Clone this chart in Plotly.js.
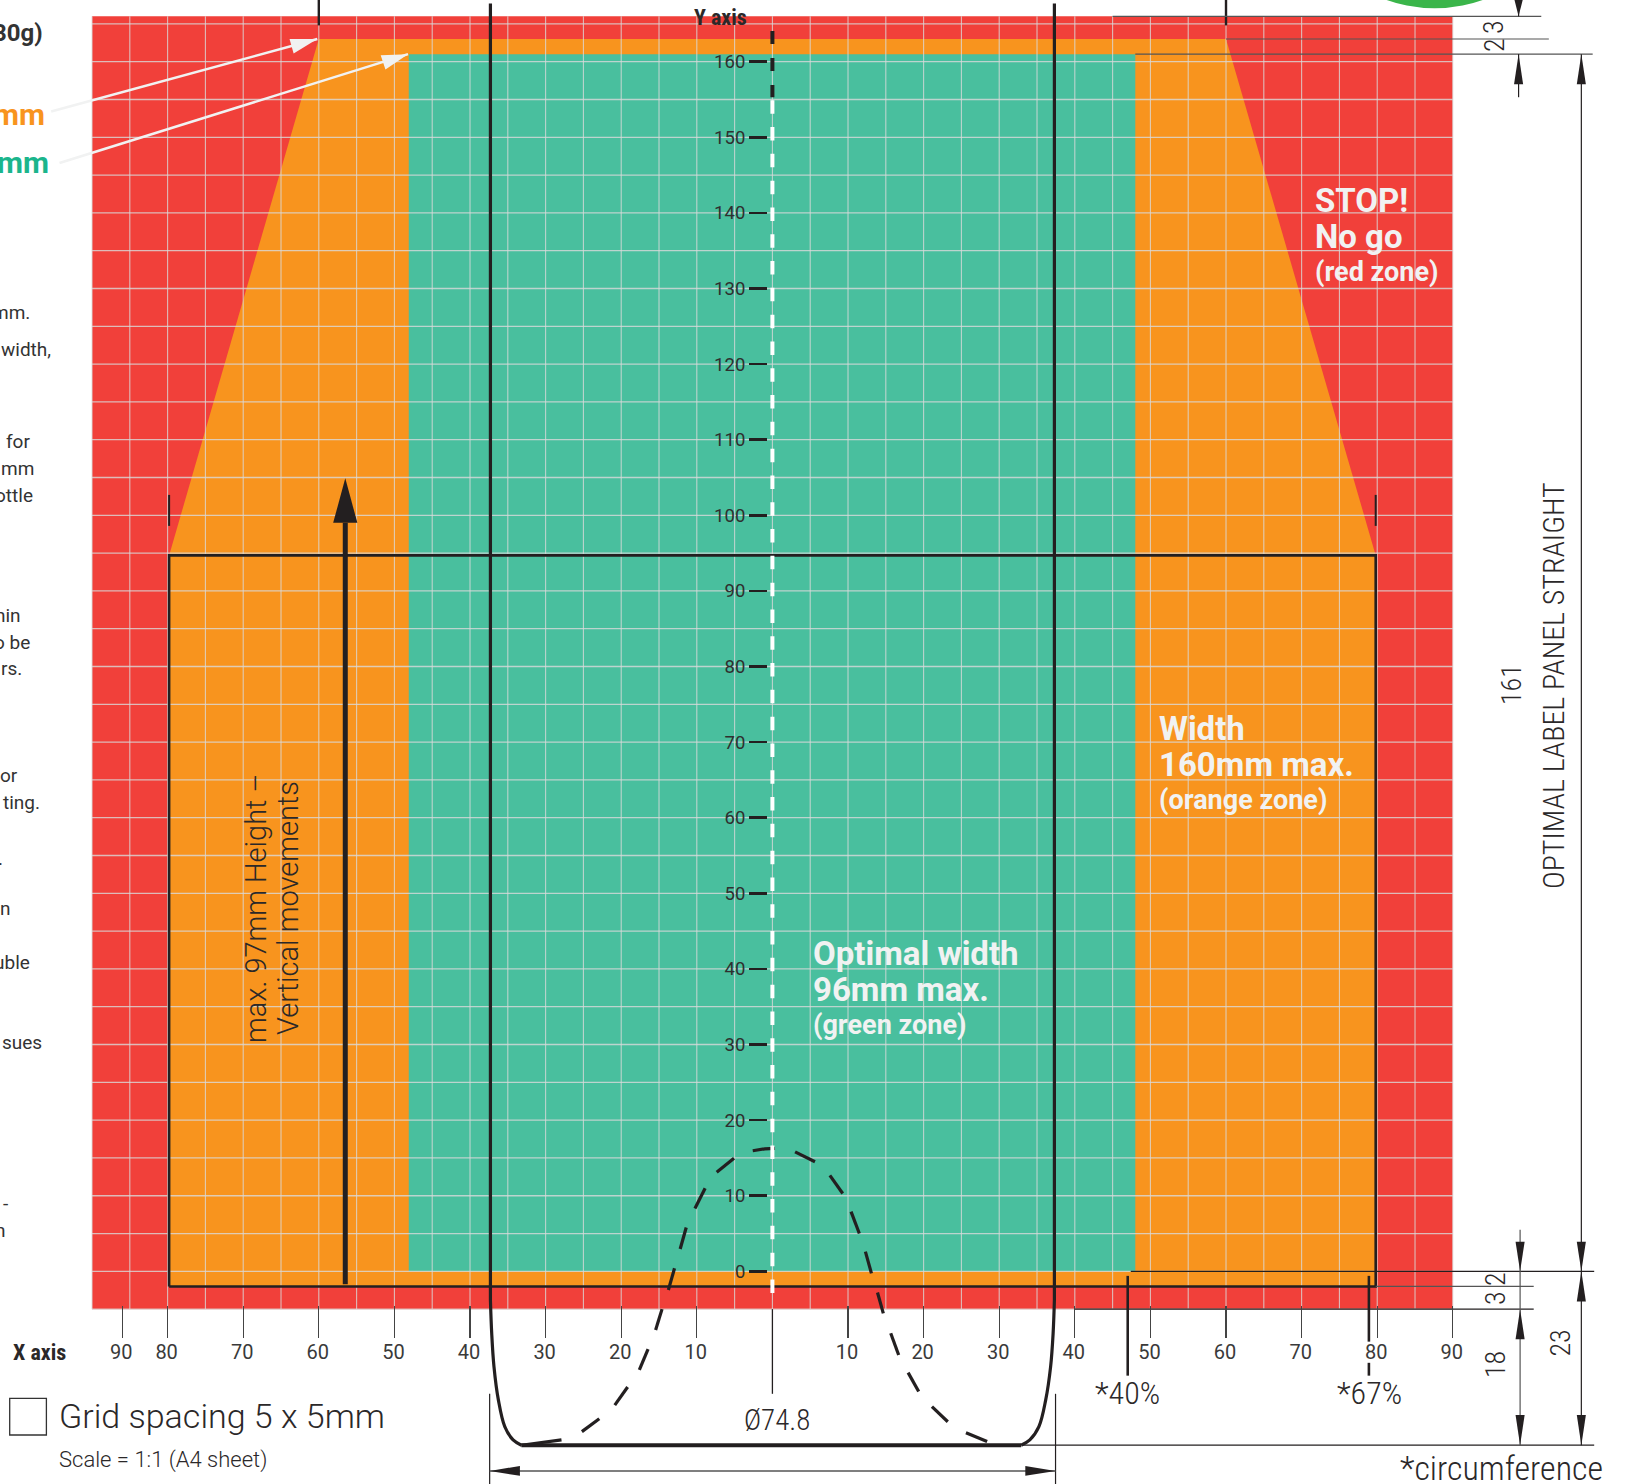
<!DOCTYPE html>
<html><head><meta charset="utf-8">
<script src="https://cdn.plot.ly/plotly-3.0.1.min.js"></script>
<style>html,body{margin:0;padding:0;background:#fff;overflow:hidden}#c{width:1627px;height:1484px}</style>
</head><body><div id="c"></div>
<script>
// ---- chart values, all in millimetres on the sheet ----
const xRange = [-102.17, 113.04];
const yRange = [-28.13, 168.16];
const gridX = [-90,-85,-80,-75,-70,-65,-60,-55,-50,-45,-40,-35,-30,-25,-20,-15,-10,-5,0,5,10,15,20,25,30,35,40,45,50,55,60,65,70,75,80,85,90];
const gridY = [-5,0,5,10,15,20,25,30,35,40,45,50,55,60,65,70,75,80,85,90,95,100,105,110,115,120,125,130,135,140,145,150,155,160,165];
const xTickVals = [-86,-80,-70,-60,-50,-40,-30,-20,-10,10,20,30,40,50,60,70,80,90];
const xTickText = ['90','80','70','60','50','40','30','20','10','10','20','30','40','50','60','70','80','90'];
const yTickVals = [0,10,20,30,40,50,60,70,80,90,100,110,120,130,140,150,160];
const yTickText = ['0','10','20','30','40','50','60','70','80','90','100','110','120','130','140','150','160'];

const redX = [-90,90,90,-90,-90],  redY = [-5,-5,166,166,-5];
const orangeX = [-79.8,79.8,79.8,60,-60,-79.8,-79.8], orangeY = [-2,-2,94.7,163,163,94.7,-2];
const greenX = [-48.1,48,48,-48.1,-48.1], greenY = [0,0,161,161,0];
const frameX = [-79.8,79.8,79.8,-79.8,-79.8], frameY = [-2,-2,94.7,94.7,-2];

// top-down view of the shoulder: each dash of the dashed profile, separated by null
const profileX = [-33.2,-27.9,null,-25.2,-22.9,null,-20.85,-19.15,null,-17.6,-16.45,null,-15.45,-14.6,null,-13.76,-12.95,null,-12.2,-11.4,null,-10.25,-8.9,null,-7.37,-5.08,null,-2.6,-1.0,0.34,null,3,5.63,null,7.6,9.3,null,10.4,11.5,null,12.3,13.1,null,13.9,14.67,null,15.65,16.7,null,17.95,19.35,null,21.1,23.2,null,25.6,28.4];
const profileY = [-23,-22.3,null,-21.2,-19.5,null,-17.7,-15.3,null,-13.05,-10.3,null,-7.76,-5.0,null,-2.47,0.4,null,2.95,5.8,null,8.3,11,null,13.1,14.95,null,15.95,16.2,16.27,null,15.8,14.5,null,12.7,10.3,null,7.9,5,null,2.6,-0.27,null,-2.8,-5.56,null,-8.2,-11.07,null,-13.4,-15.9,null,-17.9,-19.9,null,-21.35,-22.5];
const shoulderLX = [-37.3,-37.13,-36.83,-36.25,-35.4,-34.3,-33.2], shoulderLY = [-3.8,-8.2,-12.6,-17,-20.55,-22.3,-23];
const shoulderRX = [37.3,37.13,36.8,36.15,35.25,34.05,32.9],       shoulderRY = [-3.8,-8.2,-12.6,-17,-20.55,-22.3,-23];

const txtDark = '#2b2829', lineDark = '#231F20', offWhite = '#F1F2F2';
const NARROW = '"Roboto Condensed","Liberation Sans Narrow",Roboto,sans-serif';
const ROBOTO = 'Roboto,sans-serif';

// ---- helpers ----
function seg(xs, ys, color, width, extra){
  return {type:'scatter',mode:'lines',x:xs,y:ys,hoverinfo:'skip',showlegend:false,
    line:Object.assign({color:color,width:width},extra||{})};
}
function zone(xs, ys, color){
  return {type:'scatter',mode:'lines',x:xs,y:ys,fill:'toself',fillcolor:color,hoverinfo:'skip',showlegend:false,line:{width:0,color:color}};
}
function head(tx,ty,bx,by,hw,color){ // tip and base centre, half width, in mm
  const dx=bx-tx, dy=by-ty, l=Math.hypot(dx,dy), nx=-dy/l*hw, ny=dx/l*hw;
  return zone([tx,bx+nx,bx-nx,tx],[ty,by+ny,by-ny,ty],color);
}
function gridLines(){
  const vx=[],vy=[],hx=[],hy=[];
  gridX.forEach(v=>{vx.push(v,v,null);vy.push(-5,166,null);});
  gridY.forEach(v=>{hx.push(-90,90,null);hy.push(v,v,null);});
  const c='rgba(218,218,218,0.8)';
  return [seg(vx,vy,c,1.1), seg(hx,hy,c,1.3)];
}
const W=1627,H=1484;
// text placed by its visible edge in page pixels; narrow face by default
function t(text,x,y,size,color,o){
  o=o||{};
  const a=o.xanchor||'left', dx=a==='left'?-3:(a==='right'?3:0);
  const f={family:o.family||NARROW,size:size,color:color};
  if(o.weight) f.weight=o.weight;
  const out={xref:'paper',yref:'paper',x:(x+dx)/W,y:1-y/H,text:text,showarrow:false,xanchor:a,yanchor:'middle',font:f};
  if(o.textangle) out.textangle=o.textangle;
  return out;
}
const R={xanchor:'right',family:ROBOTO}, C={xanchor:'center',weight:300}, L={weight:300}, V={xanchor:'center',textangle:-90,weight:300};
const B={family:ROBOTO,weight:700};

// ---- traces ----
const gray='#555555', thin=1.2;
const traces=[
  zone(redX,redY,'#F1403A'), zone(orangeX,orangeY,'#F8941E'), zone(greenX,greenY,'#49BF9E'),
  ...gridLines(),
  // bottle verticals, base and shoulders
  seg([-37.3,-37.3],[167.7,-3.8],lineDark,3.2), seg([37.3,37.3],[167.7,-3.8],lineDark,3.2),
  seg(shoulderLX,shoulderLY,lineDark,3.2,{shape:'spline',smoothing:1}),
  seg(shoulderRX,shoulderRY,lineDark,3.2,{shape:'spline',smoothing:1}),
  seg([-33.2,32.9],[-23,-23],lineDark,4),
  seg(profileX,profileY,lineDark,3.2),
  // frame, corner ticks
  seg(frameX,frameY,lineDark,2.6),
  seg([-60,-60],[168.2,164.8],lineDark,2.4), seg([60,60],[168.2,164.8],lineDark,2.4),
  seg([-79.8,-79.8],[102.7,98.6],lineDark,2), seg([79.8,79.8],[102.7,98.6],lineDark,2),
  // height arrow
  seg([-56.5,-56.5],[-1.7,99],lineDark,5), head(-56.5,104.9,-56.5,99,1.6,lineDark),
  // centre line
  seg([0,0],[-5,-16.2],lineDark,1.3),
  seg([0,0],[164.06,155.3],lineDark,4,{dash:'13px,14px'}),
  seg([0,0],[154.9,-3.6],'#ffffff',4,{dash:'13.5px,13.3px'}),
  // white pointers
  seg([-95.4,-60.2],[153.4,163],offWhite,2.6), head(-60.2,163,-63.6,162.05,1.0,offWhite),
  seg([-94.3,-48.2],[146.6,161],offWhite,2.6), head(-48.2,161,-51.5,159.9,1.0,offWhite),
  // right dimension lines
  seg([45,101.7],[166,166],gray,thin), seg([60,102.7],[163,163],gray,thin), seg([48,108.5],[161,161],gray,thin),
  seg([47.4,108.7],[0,0],lineDark,thin), seg([79.8,100.7],[-2,-2],gray,thin), seg([40,100.7],[-5,-5],lineDark,thin),
  seg([33,108.7],[-23,-23],lineDark,thin),
  seg([98.7,98.7],[168.2,166],lineDark,thin), head(98.7,166,98.7,168.2,0.55,lineDark),
  seg([98.7,98.7],[161,155.3],lineDark,thin), head(98.7,161,98.7,157,0.6,lineDark),
  seg([107,107],[161,-23],lineDark,thin),
  head(107,161,107,157,0.6,lineDark), head(107,0,107,3.9,0.6,lineDark),
  head(107,0,107,-4,0.6,lineDark), head(107,-23,107,-19,0.6,lineDark),
  seg([98.9,98.9],[5.5,-23],gray,thin),
  head(98.9,0,98.9,3.9,0.6,lineDark), head(98.9,-5,98.9,-9,0.6,lineDark), head(98.9,-23,98.9,-19,0.6,lineDark),
  // diameter dimension
  seg([-37.4,-37.4],[-16.2,-28.2],lineDark,thin), seg([37.45,37.45],[-16.2,-28.2],lineDark,thin),
  seg([-37.4,37.45],[-26.4,-26.4],gray,thin+0.3),
  head(-37.4,-26.4,-33.4,-26.4,0.65,lineDark), head(37.45,-26.4,33.45,-26.4,0.65,lineDark),
  // circumference markers
  seg([47,47],[-0.6,-13.8],lineDark,2.6),
  seg([78.9,78.9],[-0.6,-9.3],lineDark,2.6), seg([78.9,78.9],[-12.1,-13.8],lineDark,2.6)
];

const dark='#333333';
const annotations=[
  t('30g)',42,33,24,dark,{xanchor:'right',family:ROBOTO,weight:700}),
  t('mm',44,114,30,'#F8941E',{xanchor:'right',family:ROBOTO,weight:700}),
  t('mm',47.5,162.5,30,'#1BB58C',{xanchor:'right',family:ROBOTO,weight:700}),
  t('mm.',29.3,312,19,dark,R), t('width,',50,349,19,dark,R), t('for',28.7,442,19,dark,R),
  t('mm',32.7,468,19,dark,R), t('ottle',32,495,19,dark,R), t('nin',20,615,19,dark,R),
  t('o be',29.3,642,19,dark,R), t('rs.',20.7,668,19,dark,R), t('or',16.7,775,19,dark,R),
  t('ting.',39.3,802,19,dark,R), t('.',2,859,19,dark,R), t('n',10,908,19,dark,R),
  t('uble',29.3,962,19,dark,R), t('sues',40.7,1042,19,dark,R), t('-',6.7,1203,19,dark,R), t('n',5,1230,19,dark,R),
  t('<b>Y axis</b>',695,17,22,txtDark), t('<b>X axis</b>',14,1352,22,txtDark),
  t('Grid spacing 5 x 5mm',59.7,1416,34,txtDark,{family:ROBOTO,weight:300}),
  t('Scale = 1:1 (A4 sheet)',59.7,1460,22,txtDark,{family:ROBOTO,weight:300}),
  t('Ø74.8',776.7,1420,29,txtDark,C),
  t('*40%',1127,1393,32,txtDark,C), t('*67%',1369.6,1393,32,txtDark,C),
  t('*circumference',1401,1468,34,txtDark,L),
  t('STOP!',1316,200,33,offWhite,B), t('No go',1316,236,33,offWhite,B), t('(red zone)',1316,272,27,offWhite,B),
  t('Width',1160,729,33,offWhite,B), t('160mm max.',1160,764,33,offWhite,B), t('(orange zone)',1160,800,27,offWhite,B),
  t('Optimal width',813.5,953.5,33,offWhite,B), t('96mm max.',813.5,989,33,offWhite,B), t('(green zone)',813.5,1025,27,offWhite,B),
  t('max. 97mm Height –',256,908,29,txtDark,{xanchor:'center',textangle:-90,family:ROBOTO,weight:300}),
  t('Vertical movements',288,908,29,txtDark,{xanchor:'center',textangle:-90,family:ROBOTO,weight:300}),
  t('OPTIMAL LABEL PANEL STRAIGHT',1553,686,30,txtDark,V),
  t('161',1511,685,28,txtDark,V), t('3',1494,27,28,txtDark,V), t('2',1494,45,28,txtDark,V),
  t('2',1495,1279,28,txtDark,V), t('3',1495,1298,28,txtDark,V), t('18',1495,1365,28,txtDark,V), t('23',1559.5,1343,28,txtDark,V)
];

const shapes=[
  {type:'circle',xref:'x',yref:'y',x0:68.7,x1:106.5,y0:167.06,y1:204.9,fillcolor:'#3AB54A',line:{width:0},layer:'below'},
  {type:'rect',xref:'paper',yref:'paper',x0:9.7/W,x1:46.4/W,y0:1-1435/H,y1:1-1398.3/H,fillcolor:'#fff',line:{color:'#333',width:1.3}}
];

const layout={
  width:W,height:H,margin:{l:0,r:0,t:0,b:0},paper_bgcolor:'#fff',plot_bgcolor:'#fff',showlegend:false,
  shapes:shapes,annotations:annotations,
  xaxis:{range:xRange,anchor:'free',position:1-1305/H,side:'bottom',showgrid:false,zeroline:false,showline:false,
    tickmode:'array',tickvals:xTickVals,ticktext:xTickText,ticks:'outside',ticklen:32,tickwidth:1.2,tickcolor:'#444',
    ticklabelstandoff:-3,ticklabelshift:-1,
    tickfont:{family:ROBOTO,size:20,color:'#3a3a3a'},fixedrange:true},
  yaxis:{range:yRange,anchor:'free',position:766.7/W,side:'left',showgrid:false,zeroline:false,showline:false,
    tickmode:'array',tickvals:yTickVals,ticktext:yTickText,ticks:'outside',ticklen:17.7,tickwidth:2.7,tickcolor:lineDark,
    tickfont:{family:ROBOTO,size:18.5,color:'#2f2f2f'},fixedrange:true}
};
Plotly.newPlot('c',traces,layout,{displayModeBar:false,staticPlot:true});
</script></body></html>
